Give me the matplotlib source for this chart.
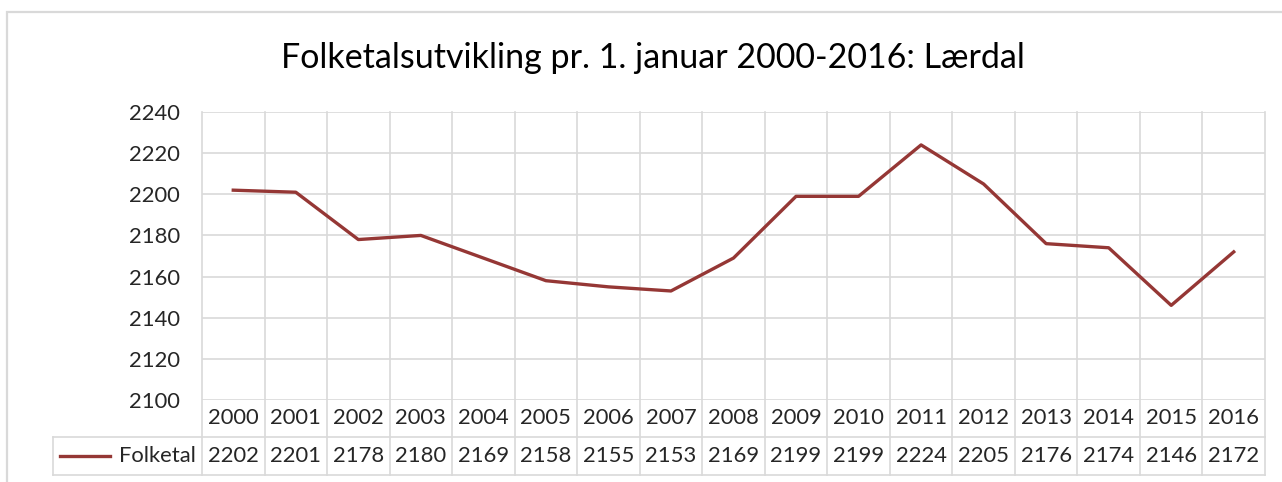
import matplotlib
matplotlib.use("Agg")
import matplotlib.pyplot as plt
from matplotlib.patches import Rectangle
from matplotlib.transforms import blended_transform_factory

years = ["2000", "2001", "2002", "2003", "2004", "2005", "2006", "2007", "2008",
         "2009", "2010", "2011", "2012", "2013", "2014", "2015", "2016"]
folketal = [2202, 2201, 2178, 2180, 2169, 2158, 2155, 2153, 2169,
            2199, 2199, 2224, 2205, 2176, 2174, 2146, 2172]
yticks = [2100, 2120, 2140, 2160, 2180, 2200, 2220, 2240]
title = "Folketalsutvikling pr. 1. januar 2000-2016: Lærdal"
series_name = "Folketal"

W, H = 1282, 482
plt.rcParams['font.family'] = ['Lato', 'DejaVu Sans']
fig = plt.figure(figsize=(W / 100, H / 100), dpi=100)

grid_c = "#d9d9d9"
line_c = "#953735"
text_c = "#262626"
fs = 15.8

# outer chart border
fig.add_artist(Rectangle((7 / W, -0.1), 1.2, 1 - 12 / H + 0.1, transform=fig.transFigure,
                         fill=False, ec=grid_c, lw=1.6))

fig.text(0.5 * (283 + 1022) / W, 1 - 58 / H, title, ha="center", va="center",
         fontsize=24.5, color="black")

x0, x1 = 202, 1265
ytop, ybot = 112, 400
ax = fig.add_axes([x0 / W, 1 - ybot / H, (x1 - x0) / W, (ybot - ytop) / H])
n = len(years)
ax.set_xlim(-0.5, n - 0.5)
ax.set_ylim(2100, 2240)
for s in ax.spines.values():
    s.set_visible(False)
ax.set_yticks(yticks)
ax.set_xticks([])
ax.tick_params(axis="y", length=0, pad=16, labelsize=fs, labelcolor=text_c)
for v in yticks:
    ax.axhline(v, color=grid_c, lw=1.2, zorder=0)

ax.plot(range(n), folketal, color=line_c, lw=2.4, solid_joinstyle="round", zorder=3)

# data table below the plot area
tr = blended_transform_factory(ax.transData, ax.transAxes)
ph = ybot - ytop
row1 = -37 / ph
row2 = -75 / ph
left_tab = (53 - x0) / (x1 - x0) * n - 0.5
for i in range(n + 1):
    ax.plot([i - 0.5, i - 0.5], [row2, 1], color=grid_c, lw=1.2, transform=tr,
            clip_on=False, zorder=0)
ax.plot([left_tab, n - 0.5], [row1, row1], color=grid_c, lw=1.2, transform=tr, clip_on=False)
ax.plot([left_tab, n - 0.5], [row2, row2], color=grid_c, lw=1.2, transform=tr, clip_on=False)
ax.plot([left_tab, left_tab], [row1, row2], color=grid_c, lw=1.2, transform=tr, clip_on=False)

for i in range(n):
    ax.text(i, row1 / 2, years[i], transform=tr, ha="center", va="center",
            fontsize=fs, color=text_c)
    ax.text(i, (row1 + row2) / 2, str(folketal[i]), transform=tr, ha="center", va="center",
            fontsize=fs, color=text_c)

# legend key inside the table
kx0 = (60 - x0) / (x1 - x0) * n - 0.5
kx1 = (110 - x0) / (x1 - x0) * n - 0.5
ym = (row1 + row2) / 2
ax.plot([kx0, kx1], [ym, ym], color=line_c, lw=2.4, transform=tr, clip_on=False)
ax.text((196 - x0) / (x1 - x0) * n - 0.5, ym, series_name, transform=tr, ha="right",
        va="center", fontsize=fs, color=text_c)

fig.savefig("out.png", dpi=100)
